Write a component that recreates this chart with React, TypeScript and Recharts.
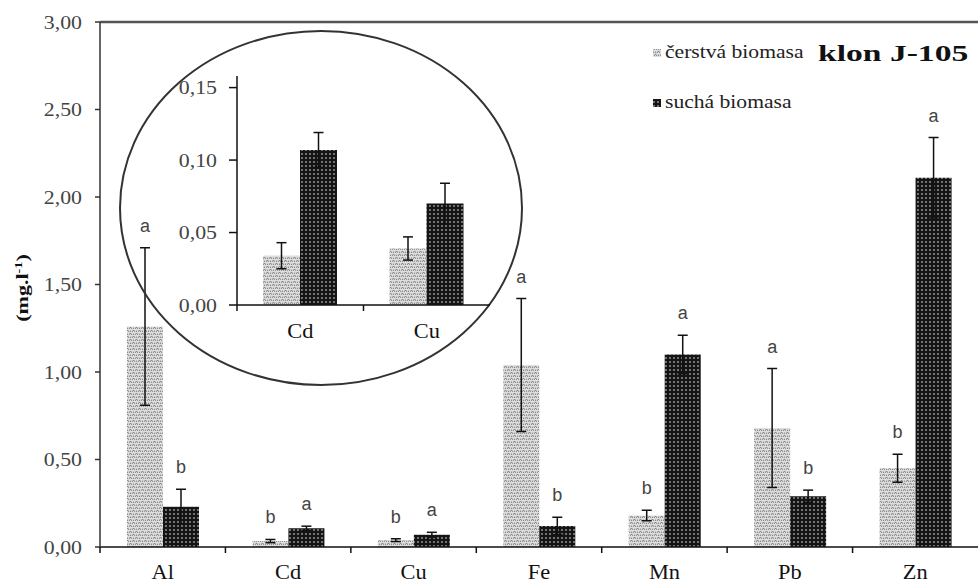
import { BarChart, Bar, XAxis, YAxis, ErrorBar, LabelList, ReferenceLine } from "recharts"

// metals measured in clone J-105
const elements = ["Al", "Cd", "Cu", "Fe", "Mn", "Pb", "Zn"]
const freshValues = [1.26, 0.034, 0.039, 1.04, 0.18, 0.68, 0.45]
const freshErrors = [0.45, 0.009, 0.008, 0.38, 0.03, 0.34, 0.08]
const dryValues = [0.23, 0.107, 0.07, 0.12, 1.1, 0.29, 2.11]
const dryErrors = [0.1, 0.012, 0.014, 0.05, 0.11, 0.035, 0.23]
const freshLetters = ["a", "b", "b", "a", "b", "a", "b"]
const dryLetters = ["b", "a", "a", "b", "a", "b", "a"]
const insetElements = ["Cd", "Cu"]

const mainTicks = [0, 0.5, 1, 1.5, 2, 2.5, 3]
const insetTicks = [0, 0.05, 0.1, 0.15]

const seriesNames = ["čerstvá biomasa", "suchá biomasa"]
const title = "klon J-105"

const SERIF = '"Liberation Serif", "Times New Roman", serif'
const SANS = '"Liberation Sans", Arial, sans-serif'

const W = 978
const H = 585
const PLOT_LEFT = 100
const PLOT_TOP = 22
const PLOT_BOTTOM = 547
const Y_MAX = 3
const PX_PER_UNIT = (PLOT_BOTTOM - PLOT_TOP) / Y_MAX

// inset box
const INSET_LEFT = 140
const INSET_TOP = 56
const INSET_W = 360
const INSET_H = 290
const INSET_AXIS_W = 97
const INSET_MARGIN_TOP = 20
const INSET_XAXIS_H = 41
const INSET_MAX = 0.158

const rows = elements.map((name, i) => ({
  name,
  fresh: freshValues[i],
  freshErr: freshErrors[i],
  dry: dryValues[i],
  dryErr: dryErrors[i],
  freshLetter: freshLetters[i],
  dryLetter: dryLetters[i],
}))
const insetRows = rows.filter((r) => insetElements.includes(r.name))

const fmt = (v: number) => v.toFixed(2).replace(".", ",")

function Patterns({ prefix }: { prefix: string }) {
  return (
    <defs>
      <pattern id={`${prefix}-light`} patternUnits="userSpaceOnUse" width="6" height="6">
        <rect width="6" height="6" fill="#dedede" />
        <path d="M0 1.5 L1.5 0.5 L3 1.5 M3 4.5 L4.5 3.5 L6 4.5" stroke="#6e6e6e" strokeWidth="1" fill="none" />
        <circle cx="4.5" cy="1.3" r="0.75" fill="#858585" />
        <circle cx="1.5" cy="4.3" r="0.75" fill="#858585" />
      </pattern>
      <pattern id={`${prefix}-dark`} patternUnits="userSpaceOnUse" width="4" height="4">
        <rect width="4" height="4" fill="#141414" />
        <circle cx="2" cy="2" r="1.05" fill="#8a8a8a" />
      </pattern>
    </defs>
  )
}

function YTick({ x, y, payload }: any) {
  return (
    <text
      transform={`translate(${x},${y + 6.5}) scale(1.15,1)`}
      textAnchor="end"
      fontSize={19}
      fontFamily={SERIF}
      fill="#444"
    >
      {fmt(payload.value)}
    </text>
  )
}

// category labels with tick marks on the category borders
const makeXTick = (axisY: number, halfBand: number, labelDrop: number) =>
  function XTick({ x, payload }: any) {
    return (
      <g>
        <line x1={x - halfBand} y1={axisY} x2={x - halfBand} y2={axisY + 6} stroke="#111" strokeWidth={1.5} />
        <text
          transform={`translate(${x},${axisY + labelDrop}) scale(1.12,1)`}
          textAnchor="middle"
          fontSize={20}
          fontFamily={SERIF}
          fill="#111"
        >
          {payload.value}
        </text>
      </g>
    )
  }

const letterLabel = (errors: number[]) =>
  function Letter(props: any) {
    const { x, y, width, value, index } = props
    const top = y - errors[index] * PX_PER_UNIT
    return (
      <text x={x + width / 2} y={top - 16} textAnchor="middle" fontSize={18} fontFamily={SANS} fill="#444">
        {value}
      </text>
    )
  }

const MainXTick = makeXTick(PLOT_BOTTOM, (W - PLOT_LEFT) / elements.length / 2, 32)
// inset ticks are drawn in the inset's own svg coordinates
const insetAxisY = INSET_H - INSET_XAXIS_H
const InsetXTick = makeXTick(insetAxisY, (INSET_W - INSET_AXIS_W - 10) / insetElements.length / 2, 33)

function Overlay() {
  return (
    <svg width={W} height={H} style={{ position: "absolute", left: 0, top: 0, pointerEvents: "none" }}>
      <Patterns prefix="lg" />
      <ellipse cx={321} cy={208} rx={201} ry={177} fill="none" stroke="#333" strokeWidth={2} />
      <text
        transform="translate(28,288) rotate(-90) scale(1.3,1)"
        textAnchor="middle"
        fontSize={17}
        fontWeight="bold"
        fontFamily={SERIF}
        fill="#111"
      >
        <tspan>(mg.l</tspan>
        <tspan dy={-6} fontSize={11}>-1</tspan>
        <tspan dy={6}>)</tspan>
      </text>
      {/* legend */}
      <rect x={653} y={49} width={8} height={8} fill="url(#lg-light)" />
      <text transform="translate(665,58) scale(1.2,1)" fontSize={18} fontFamily={SERIF} fill="#222">
        {seriesNames[0]}
      </text>
      <rect x={653} y={99} width={8} height={8} fill="url(#lg-dark)" />
      <text transform="translate(665,108) scale(1.2,1)" fontSize={18} fontFamily={SERIF} fill="#222">
        {seriesNames[1]}
      </text>
      <text
        transform="translate(818,61) scale(1.4,1)"
        fontSize={24}
        fontWeight="bold"
        fontFamily={SERIF}
        fill="#111"
      >
        {title}
      </text>
    </svg>
  )
}

export default function App() {
  return (
    <div style={{ position: "absolute", left: 0, top: 0, width: W, height: H, background: "#fff" }}>
      <div style={{ position: "absolute", left: 0, top: 0 }}>
        <BarChart
          width={W}
          height={H}
          data={rows}
          margin={{ top: PLOT_TOP, right: 0, bottom: 0, left: 0 }}
          barSize={36}
          barGap={0}
        >
          <Patterns prefix="main" />
          <XAxis
            dataKey="name"
            height={H - PLOT_BOTTOM}
            interval={0}
            tickLine={false}
            axisLine={{ stroke: "#111", strokeWidth: 1.5 }}
            tick={<MainXTick />}
          />
          <YAxis
            width={PLOT_LEFT}
            domain={[0, Y_MAX]}
            ticks={mainTicks}
            interval={0}
            tickSize={5}
            tickMargin={13}
            axisLine={{ stroke: "#333", strokeWidth: 1.5 }}
            tickLine={{ stroke: "#333", strokeWidth: 1.5 }}
            tick={<YTick />}
          />
          <ReferenceLine y={Y_MAX} stroke="#555" strokeWidth={2.5} />
          <Bar dataKey="fresh" fill="url(#main-light)" isAnimationActive={false}>
            <ErrorBar dataKey="freshErr" width={5} stroke="#111" strokeWidth={1.5} />
            <LabelList dataKey="freshLetter" content={letterLabel(freshErrors)} />
          </Bar>
          <Bar dataKey="dry" fill="url(#main-dark)" isAnimationActive={false}>
            <ErrorBar dataKey="dryErr" width={5} stroke="#111" strokeWidth={1.5} />
            <LabelList dataKey="dryLetter" content={letterLabel(dryErrors)} />
          </Bar>
        </BarChart>
      </div>
      <Overlay />
      <div style={{ position: "absolute", left: INSET_LEFT, top: INSET_TOP }}>
        <BarChart
          width={INSET_W}
          height={INSET_H}
          data={insetRows}
          margin={{ top: INSET_MARGIN_TOP, right: 10, bottom: 0, left: 0 }}
          barSize={37}
          barGap={0}
        >
          <Patterns prefix="inset" />
          <XAxis
            dataKey="name"
            height={INSET_XAXIS_H}
            interval={0}
            tickLine={false}
            axisLine={{ stroke: "#111", strokeWidth: 1.5 }}
            tick={<InsetXTick />}
          />
          <YAxis
            width={INSET_AXIS_W}
            domain={[0, INSET_MAX]}
            ticks={insetTicks}
            interval={0}
            tickSize={8}
            tickMargin={12}
            axisLine={{ stroke: "#111", strokeWidth: 1.5 }}
            tickLine={{ stroke: "#111", strokeWidth: 1.5 }}
            tick={<YTick />}
          />
          <Bar dataKey="fresh" fill="url(#inset-light)" isAnimationActive={false}>
            <ErrorBar dataKey="freshErr" width={5} stroke="#111" strokeWidth={1.5} />
          </Bar>
          <Bar dataKey="dry" fill="url(#inset-dark)" isAnimationActive={false}>
            <ErrorBar dataKey="dryErr" width={5} stroke="#111" strokeWidth={1.5} />
          </Bar>
        </BarChart>
      </div>
    </div>
  )
}
